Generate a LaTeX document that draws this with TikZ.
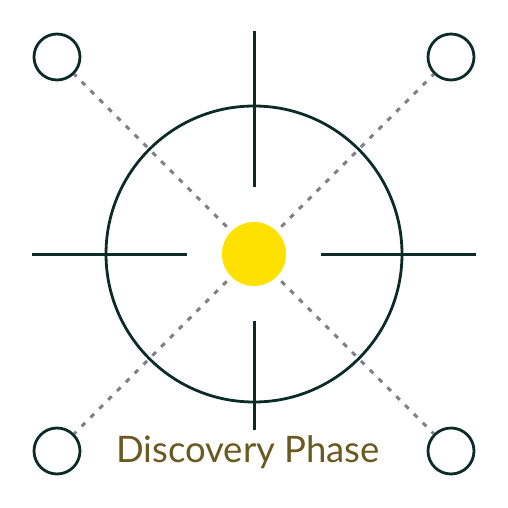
\documentclass[tikz,border=0pt]{standalone}
\usepackage{fontspec}
\setmainfont{Lato}
\definecolor{pine}{HTML}{0B2B27}
\definecolor{sun}{HTML}{FFE100}
\definecolor{dotgray}{HTML}{808080}
\definecolor{olive}{HTML}{6B5A1F}
\begin{document}
\begin{tikzpicture}[x=1pt,y=-1pt,
        hair/.style={draw=pine,line width=3pt},
        corner/.style={circle,draw=pine,line width=2.8pt,minimum size=46pt,inner sep=0pt},
        hub/.style={circle,fill=sun,minimum size=64pt,inner sep=0pt},
        ring/.style={circle,draw=pine,line width=2.8pt,minimum size=296pt,inner sep=0pt},
        dots/.style={draw=dotgray,line width=3pt,dash pattern=on 5pt off 7.5pt,dash phase=2pt},
        phasetext/.style={text=olive,font=\fontsize{36.5}{42}\selectfont,inner sep=0pt,anchor=base}]
        \useasboundingbox (0,0) rectangle (508,508);
        \node[ring] (ring) at (254,254) {};
        \node[hub] (hub) at (254,254) {};
        \node[corner] (c1) at (57,57) {};
        \node[corner] (c2) at (451,57) {};
        \node[corner] (c3) at (57,451) {};
        \node[corner] (c4) at (451,451) {};

        % dotted spokes
        \path[dots] (c1) -- (hub)
                    (c2) -- (hub)
                    (c3) -- (hub)
                    (c4) -- (hub);

        % crosshair
        \draw[hair] (254,31) -- (254,187);
        \draw[hair] (254,321) -- (254,430);
        \draw[hair] (32,254) -- (187,254);
        \draw[hair] (321,254) -- (476,254);

        \node[phasetext] (title) at (248,462) {Discovery Phase};
\end{tikzpicture}
\end{document}
